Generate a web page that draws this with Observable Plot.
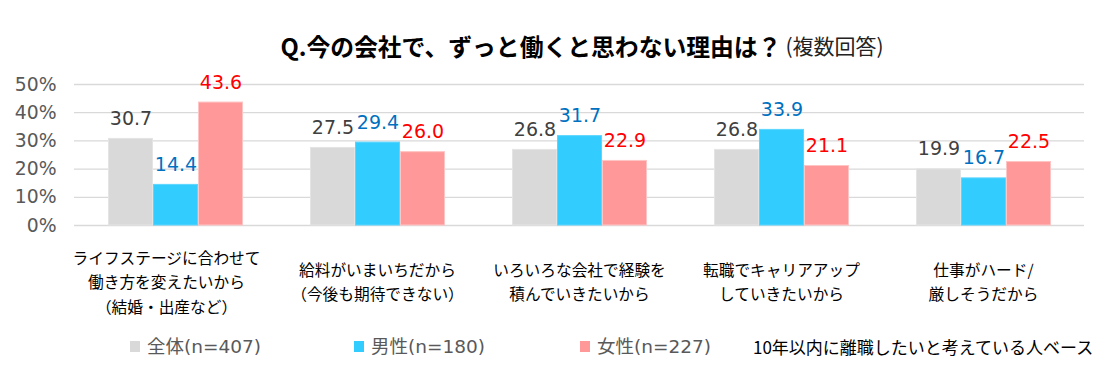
<!DOCTYPE html>
<html><head><meta charset="utf-8">
<script src="https://cdn.jsdelivr.net/npm/d3@7"></script>
<script src="https://cdn.jsdelivr.net/npm/@observablehq/plot@0.6"></script>
<style>
body{margin:0;background:#fff;font-family:"DejaVu Sans","Noto Sans CJK JP",sans-serif;}
#wrap{position:relative;width:1114px;height:385px;overflow:hidden;}
#title{position:absolute;top:0;left:0;width:1114px;height:90px;display:flex;align-items:center;justify-content:center;padding-left:50px;box-sizing:border-box;white-space:nowrap;}
#title b{font-family:"Noto Sans CJK JP",sans-serif;font-size:23.8px;font-weight:700;color:#000;}
#title span{font-family:"Noto Sans CJK JP",sans-serif;font-size:21px;color:#222;margin-left:4px;}
#chart{position:absolute;top:70px;left:0;}
.lg{position:absolute;top:334px;font-size:18.5px;color:#595959;white-space:nowrap;line-height:26px;}
.sw{display:inline-block;width:10px;height:11px;margin-right:7px;vertical-align:1px;}
#note{position:absolute;top:334px;left:753px;font-family:"Noto Sans CJK JP",sans-serif;font-size:17px;color:#000;line-height:26px;white-space:nowrap;}
</style></head>
<body><div id="wrap">
<div id="title"><b>Q.今の会社で、ずっと働くと思わない理由は？</b><span>(複数回答)</span></div>
<div id="chart"></div>
<div class="lg" style="left:130px"><i class="sw" style="background:#D9D9D9"></i>全体(n=407)</div>
<div class="lg" style="left:354px"><i class="sw" style="background:#33CCFF"></i>男性(n=180)</div>
<div class="lg" style="left:580px"><i class="sw" style="background:#FF9999"></i>女性(n=227)</div>
<div id="note">10年以内に離職したいと考えている人ベース</div>
</div>
<script>
const categories = [
  "ライフステージに合わせて\n働き方を変えたいから\n（結婚・出産など）",
  "給料がいまいちだから\n（今後も期待できない）",
  "いろいろな会社で経験を\n積んでいきたいから",
  "転職でキャリアアップ\nしていきたいから",
  "仕事がハード/\n厳しそうだから"
];
const series = ["全体(n=407)", "男性(n=180)", "女性(n=227)"];
const zentai = [30.7, 27.5, 26.8, 26.8, 19.9];
const dansei = [14.4, 29.4, 31.7, 33.9, 16.7];
const josei  = [43.6, 26.0, 22.9, 21.1, 22.5];
const yTicks = [0, 10, 20, 30, 40, 50];

const barColors = ["#D9D9D9", "#33CCFF", "#FF9999"];
const labelColors = ["#404040", "#0070C0", "#FF0000"];

const vals = [zentai, dansei, josei];
const data = [];
categories.forEach((c, i) => series.forEach((s, j) => data.push({cat: c, ser: s, v: vals[j][i]})));

const catLabel = {frameAnchor: "bottom", dy: 55, lineAnchor: "middle", lineHeight: 1.55, fontSize: 15.7, fontFamily: '"Noto Sans CJK JP", sans-serif', fill: "#000"};

const chart = Plot.plot({
  width: 1114,
  height: 250,
  marginLeft: 73,
  marginRight: 29,
  marginTop: 14,
  marginBottom: 95,
  style: {fontFamily: '"DejaVu Sans", "Noto Sans CJK JP", sans-serif', background: "#fff"},
  fx: {domain: categories, padding: 0, axis: null},
  x: {domain: series, paddingInner: 0, paddingOuter: 0.744, axis: null},
  y: {domain: [0, 50], axis: null},
  color: {domain: series, range: barColors},
  marks: [
    Plot.ruleY(yTicks, {y: d => d, stroke: "#D9D9D9", strokeWidth: 1.3}),
    Plot.barY(data, {fx: "cat", x: "ser", y: "v", fill: "ser", stroke: d => d.ser === series[2] ? "#FFC4C4" : (d.ser === series[1] ? "#5CD6FF" : "#E4E4E4"), strokeWidth: 1, insetLeft: 0.5, insetRight: 0.5}),
    Plot.text(data, {fx: "cat", x: "ser", y: "v", text: d => d.v.toFixed(1), dy: -20, fontSize: 19, fill: d => labelColors[series.indexOf(d.ser)]}),
    Plot.text(categories.slice(0, 1), {fx: d => d, text: d => d, dx: -9, ...catLabel}),
    Plot.text(categories.slice(1), {fx: d => d, text: d => d, ...catLabel}),
    Plot.axisY({ticks: yTicks, tickFormat: d => d + "%", tickSize: 0, tickPadding: 18, fontSize: 18.8, color: "#595959", facetAnchor: "left", label: null})
  ]
});
document.getElementById("chart").appendChild(chart);
</script>
</body></html>
